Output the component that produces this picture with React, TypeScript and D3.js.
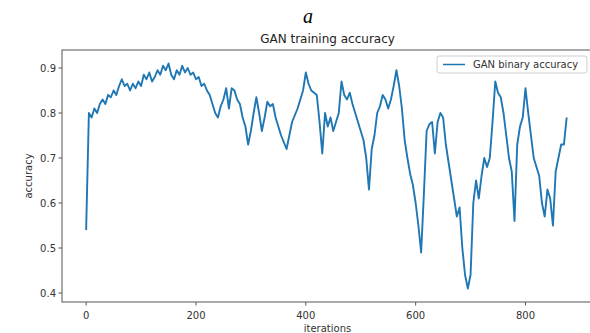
import React from "react";
import * as d3 from "d3";

const STEP = 5;
const ACCURACY: number[] = [
  0.54, 0.80, 0.79, 0.81, 0.80, 0.82, 0.83, 0.82, 0.84, 0.835,
  0.85, 0.84, 0.86, 0.875, 0.86, 0.865, 0.85, 0.865, 0.855, 0.87,
  0.86, 0.885, 0.875, 0.89, 0.87, 0.88, 0.895, 0.885, 0.905, 0.895,
  0.91, 0.885, 0.875, 0.895, 0.885, 0.905, 0.89, 0.9, 0.885, 0.89,
  0.875, 0.88, 0.86, 0.865, 0.85, 0.84, 0.82, 0.80, 0.79, 0.815,
  0.83, 0.855, 0.81, 0.855, 0.85, 0.83, 0.82, 0.79, 0.77, 0.73,
  0.76, 0.80, 0.835, 0.80, 0.76, 0.79, 0.825, 0.815, 0.82, 0.79,
  0.77, 0.75, 0.735, 0.72, 0.75, 0.78, 0.795, 0.81, 0.83, 0.85,
  0.89, 0.865, 0.85, 0.845, 0.84, 0.78, 0.71, 0.80, 0.77, 0.79,
  0.76, 0.78, 0.80, 0.87, 0.84, 0.83, 0.845, 0.82, 0.80, 0.78,
  0.76, 0.74, 0.70, 0.63, 0.72, 0.75, 0.80, 0.815, 0.84, 0.83,
  0.81, 0.83, 0.86, 0.895, 0.86, 0.81, 0.74, 0.70, 0.665, 0.64,
  0.60, 0.55, 0.49, 0.62, 0.76, 0.775, 0.78, 0.71, 0.78, 0.80,
  0.79, 0.73, 0.69, 0.65, 0.61, 0.57, 0.59, 0.50, 0.44, 0.41,
  0.44, 0.60, 0.65, 0.61, 0.66, 0.70, 0.68, 0.70, 0.78, 0.87,
  0.845, 0.835, 0.80, 0.75, 0.70, 0.67, 0.56, 0.73, 0.77, 0.79,
  0.855, 0.80, 0.75, 0.70, 0.68, 0.66, 0.60, 0.57, 0.63, 0.61,
  0.55, 0.67, 0.70, 0.73, 0.73, 0.79,
];
const X_TICKS = [0, 200, 400, 600, 800];
const Y_TICKS = [0.4, 0.5, 0.6, 0.7, 0.8, 0.9];
const TITLE = "GAN training accuracy";
const PANEL_LABEL = "a";
const SERIES_NAME = "GAN binary accuracy";
const X_LABEL = "iterations";
const Y_LABEL = "accuracy";

const W = 590;
const H = 333;
const L = 62, R = 593, T = 50, B = 302;
const BLUE = "#1f77b4";
const FONT = "DejaVu Sans, sans-serif";

export default function App() {
  const pts = ACCURACY.map((v, i) => [i * STEP, v] as [number, number]);
  const x = d3.scaleLinear().domain([-43.95, 922.95]).range([L, R]);
  const y = d3.scaleLinear().domain([0.38, 0.94]).range([B, T]);
  const line = d3
    .line<[number, number]>()
    .x((d) => x(d[0]))
    .y((d) => y(d[1]));
  const axisColor = "#555";
  const tickText = "#333";
  return (
    <div style={{ position: "absolute", left: 0, top: 0, width: W, height: H, background: "#fff" }}>
      <svg width={W} height={H} style={{ display: "block" }}>
        <rect x={0} y={0} width={W} height={H} fill="#fff" />
        <text x={308} y={23} textAnchor="middle" fontFamily="Liberation Serif, serif" fontStyle="italic" fontSize={20} fill="#000">
          {PANEL_LABEL}
        </text>
        <text x={(L + R) / 2} y={43} textAnchor="middle" fontFamily={FONT} fontSize={12} fill="#222">
          {TITLE}
        </text>
        <defs>
          <clipPath id="plotclip">
            <rect x={L} y={T} width={R - L} height={B - T} />
          </clipPath>
        </defs>
        <path d={line(pts) || ""} fill="none" stroke={BLUE} strokeWidth={1.9} strokeLinejoin="round" clipPath="url(#plotclip)" />
        <rect x={L} y={T} width={R - L} height={B - T} fill="none" stroke={axisColor} strokeWidth={1} />
        {X_TICKS.map((t) => (
          <g key={"x" + t}>
            <line x1={x(t)} x2={x(t)} y1={B} y2={B + 3.5} stroke={axisColor} />
            <text x={x(t)} y={319} textAnchor="middle" fontFamily={FONT} fontSize={10} fill={tickText}>
              {t}
            </text>
          </g>
        ))}
        {Y_TICKS.map((t) => (
          <g key={"y" + t}>
            <line x1={L - 3.5} x2={L} y1={y(t)} y2={y(t)} stroke={axisColor} />
            <text x={L - 6} y={y(t) + 3.5} textAnchor="end" fontFamily={FONT} fontSize={10} fill={tickText}>
              {t.toFixed(1)}
            </text>
          </g>
        ))}
        <text x={(L + R) / 2} y={332} textAnchor="middle" fontFamily={FONT} fontSize={10} fill={tickText}>
          {X_LABEL}
        </text>
        <text transform={`translate(32,${(T + B) / 2}) rotate(-90)`} textAnchor="middle" fontFamily={FONT} fontSize={10} fill={tickText}>
          {Y_LABEL}
        </text>
        <g>
          <rect x={437} y={56} width={150} height={17} rx={2.5} fill="#fff" fillOpacity={0.8} stroke="#ccc" strokeWidth={1} />
          <line x1={443} x2={465} y1={64.5} y2={64.5} stroke={BLUE} strokeWidth={1.5} />
          <text x={473} y={68} fontFamily={FONT} fontSize={10} fill={tickText}>
            {SERIES_NAME}
          </text>
        </g>
      </svg>
    </div>
  );
}
